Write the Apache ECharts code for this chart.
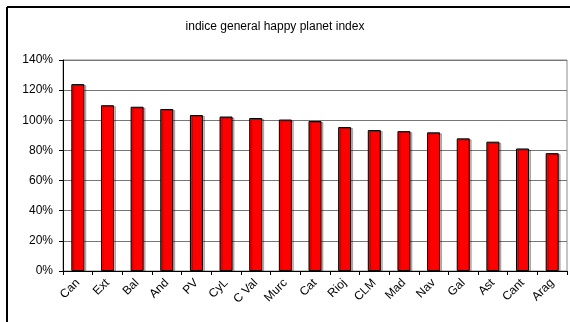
<!DOCTYPE html>
<html>
<head>
<meta charset="utf-8">
<script src="https://cdn.jsdelivr.net/npm/echarts@6/dist/echarts.min.js"></script>
<style>
  html, body { margin: 0; padding: 0; background: #fff; }
  #chart { width: 570px; height: 322px; }
</style>
</head>
<body>
<div id="chart"></div>
<script>
// Regions and their happy planet index, as a percentage
const regions = ['Can', 'Ext', 'Bal', 'And', 'PV', 'CyL', 'C Val', 'Murc', 'Cat', 'Rioj', 'CLM', 'Mad', 'Nav', 'Gal', 'Ast', 'Cant', 'Arag'];
const indexValues = [124, 110, 109, 107.5, 103.5, 102.5, 101.5, 100.5, 99.5, 95.5, 93.5, 92.8, 92, 88, 85.8, 81.3, 78.2];
const yTicks = { min: 0, max: 140, step: 20 };
const titleText = 'indice general happy planet index';

const chart = echarts.init(document.getElementById('chart'), null, { renderer: 'canvas' });
const font = 'Liberation Sans, Arial, sans-serif';

chart.setOption({
  animation: false,
  backgroundColor: '#ffffff',
  title: {
    text: titleText,
    left: 270,
    top: 16,
    textAlign: 'center',
    textStyle: { fontFamily: font, fontSize: 12, fontWeight: 'normal', color: '#000' }
  },
  graphic: [
    // outer frame, top and left edges
    { type: 'line', shape: { x1: 7, y1: 7, x2: 570, y2: 7 }, style: { stroke: '#000', lineWidth: 2 } },
    { type: 'line', shape: { x1: 7, y1: 7, x2: 7, y2: 322 }, style: { stroke: '#000', lineWidth: 2 } }
  ],
  grid: {
    left: 63, top: 60, right: 3, bottom: 51,
    show: true, borderColor: '#8c8c8c', borderWidth: 1, backgroundColor: '#fff'
  },
  xAxis: {
    type: 'category',
    data: regions,
    boundaryGap: true,
    axisLine: { lineStyle: { color: '#000', width: 1 } },
    axisTick: { show: true, length: 4, alignWithLabel: false, lineStyle: { color: '#000' } },
    axisLabel: { rotate: 45, interval: 0, margin: 10, fontFamily: font, fontSize: 12, color: '#000' }
  },
  yAxis: {
    type: 'value',
    min: yTicks.min, max: yTicks.max, interval: yTicks.step,
    axisLine: { show: true, lineStyle: { color: '#000', width: 1 } },
    axisTick: { show: true, length: 4, lineStyle: { color: '#000' } },
    axisLabel: { formatter: '{value}%', margin: 10, fontFamily: font, fontSize: 12, color: '#000' },
    splitLine: { show: true, lineStyle: { color: '#777777', width: 1 } }
  },
  series: [{
    type: 'bar',
    data: indexValues,
    barWidth: 13,
    itemStyle: {
      color: '#ff0000',
      borderColor: '#000',
      borderWidth: 1,
      shadowColor: 'rgba(0,0,0,0.25)',
      shadowOffsetX: 2,
      shadowOffsetY: 1,
      shadowBlur: 0
    }
  }]
});
</script>
</body>
</html>
